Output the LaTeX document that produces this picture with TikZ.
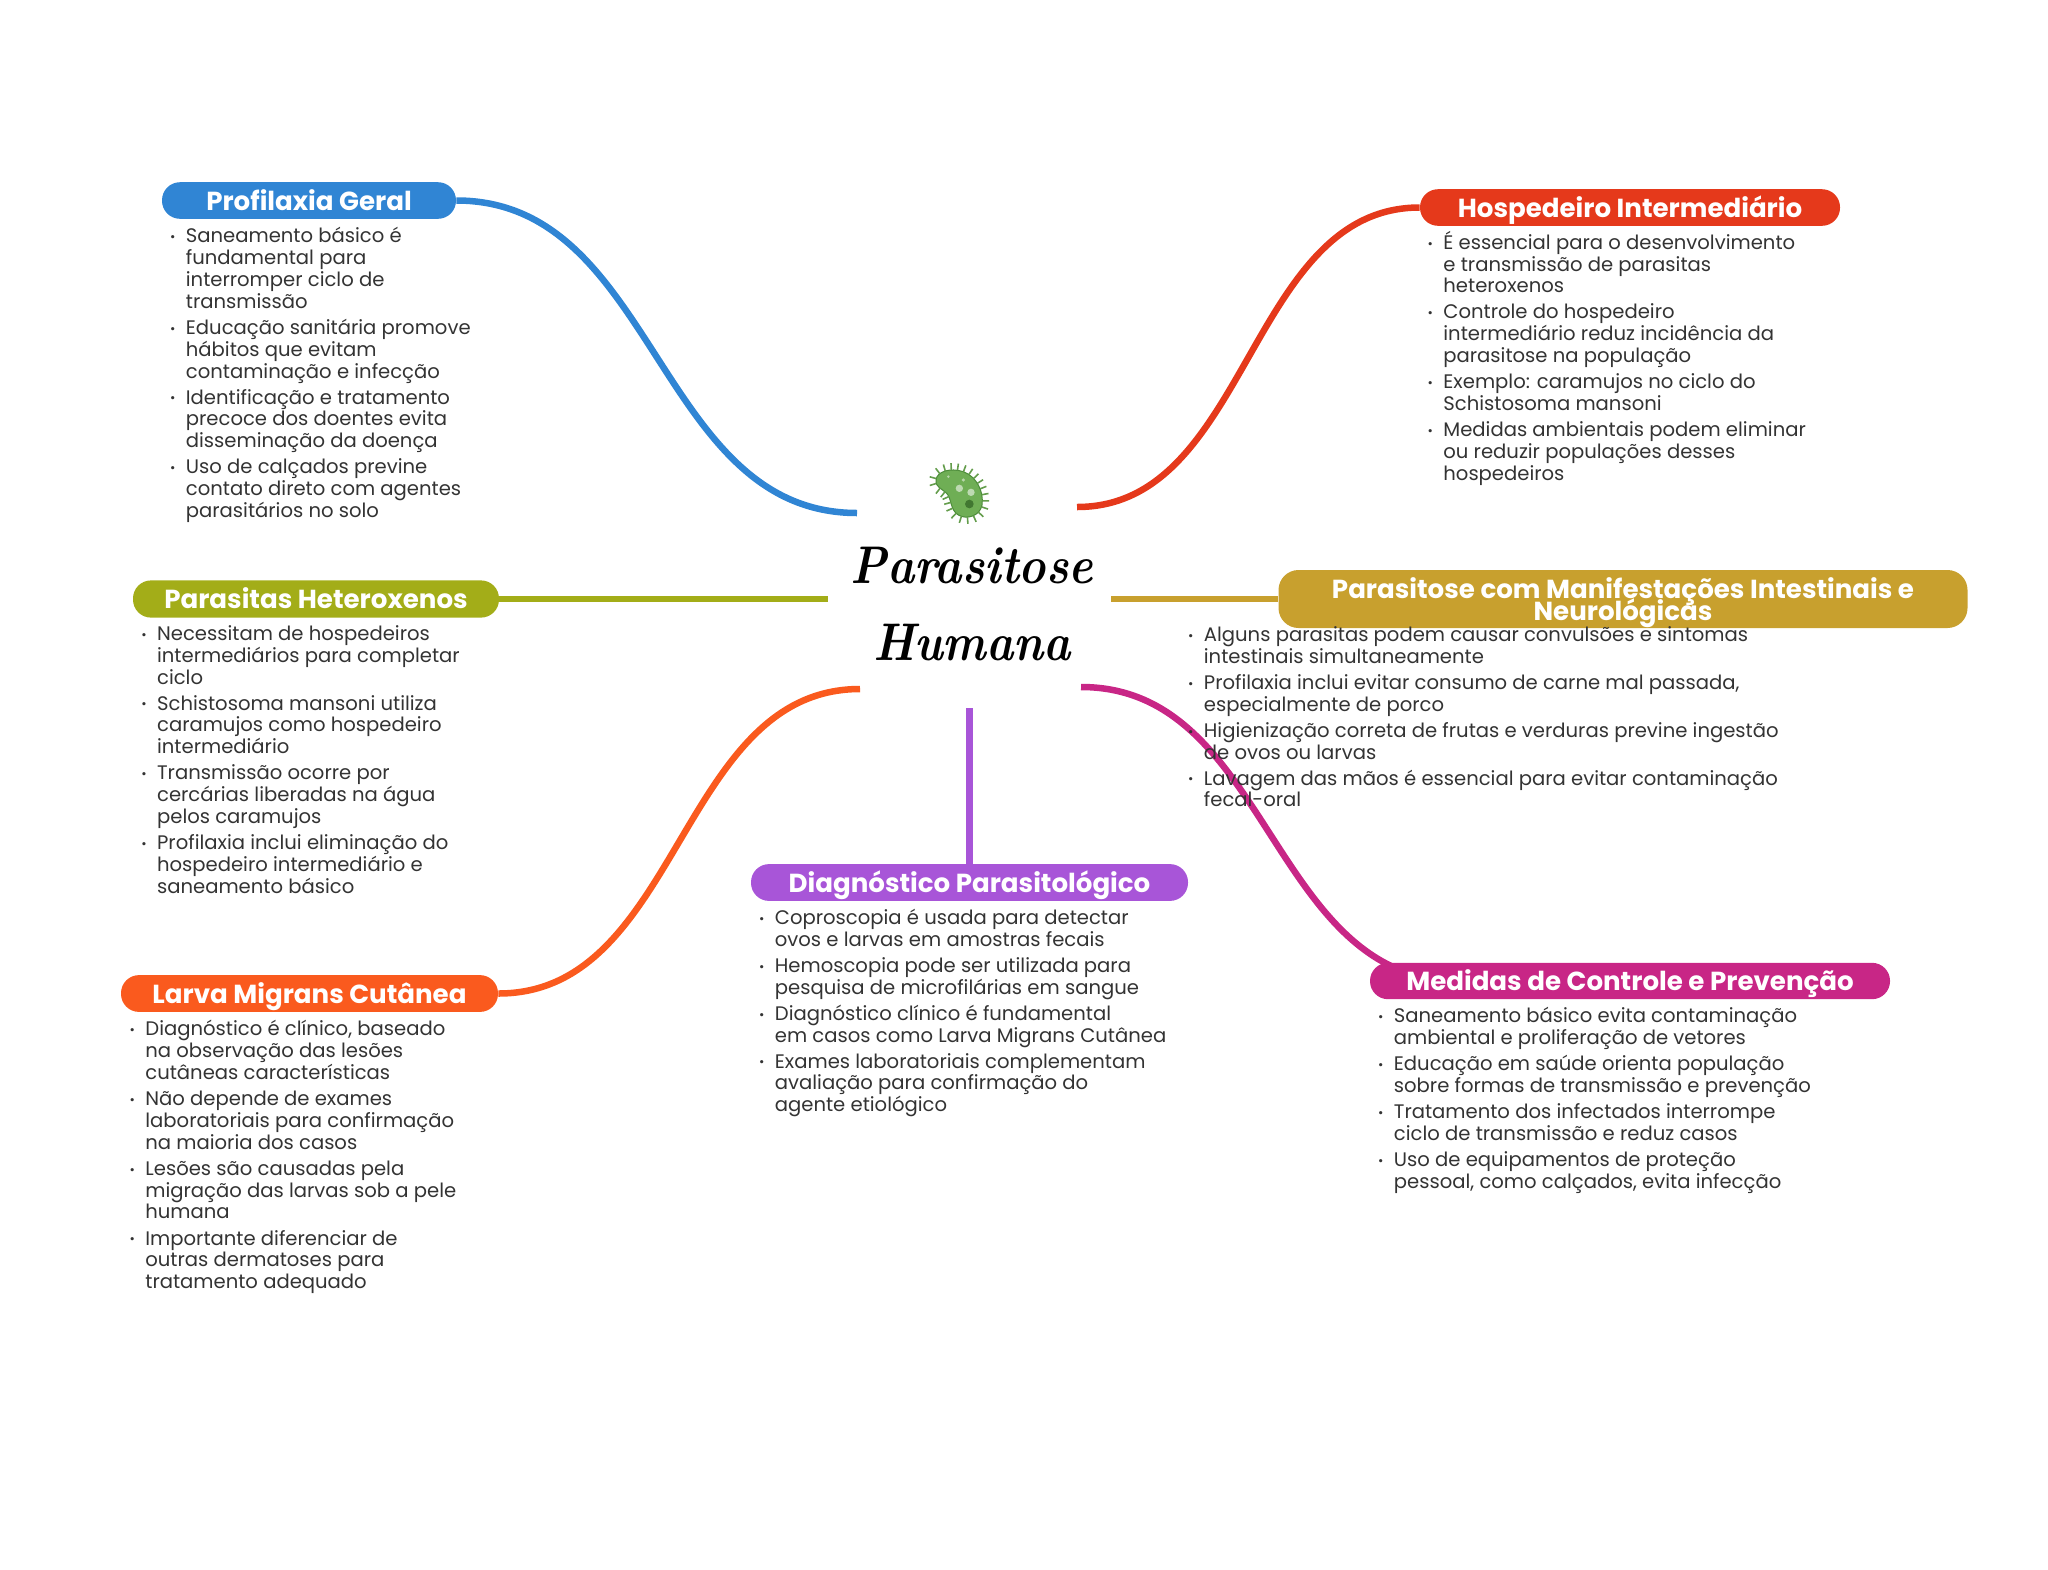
\documentclass[tikz,border=0pt]{standalone}
\usepackage{fontspec}
\setmainfont{Poppins}
\newfontfamily\titlefont[FakeStretch=0.87]{Latin Modern Roman}
\usetikzlibrary{decorations.markings}
\definecolor{cblue}{HTML}{3085D4}
\definecolor{cred}{HTML}{E5391B}
\definecolor{cgold}{HTML}{C8A02E}
\definecolor{cgreen}{HTML}{A3AD18}
\definecolor{corange}{HTML}{FA5A1E}
\definecolor{cpurple}{HTML}{A855D8}
\definecolor{cmag}{HTML}{C82686}
\definecolor{ctext}{HTML}{333333}
\definecolor{mgreen}{HTML}{6FAE55}
\definecolor{mdark}{HTML}{4C8C3A}
\pgfdeclarelayer{bg}
\pgfsetlayers{bg,main}
\AtBeginDocument{\lineskiplimit=-20pt\relax}
\newcommand{\itm}{\makebox[0pt][r]{\raisebox{0.6pt}{\fontsize{6.5}{6.5}\selectfont •}\hspace{5.2pt}}\rule{0pt}{8pt}}
\newcommand{\gap}{\\[2.15pt]}
\tikzset{
  x=0.5pt,y=-0.5pt,
  headbase/.style={rounded corners=9pt,inner sep=0pt,text=white,align=center,
    font=\fontsize{13.05}{11}\selectfont\bfseries},
  headbox/.style={headbase,text height=9.5pt,text depth=0pt},
  listbox/.style={anchor=north west,inner sep=0pt,align=left,text=ctext,
    font=\fontsize{9.8}{10.9}\selectfont},
  link/.style={line width=3.25pt},
  microspike/.style={draw=mgreen!90!black,line width=0.8pt}
}
\begin{document}
\begin{tikzpicture}
\useasboundingbox (0,0) rectangle (2048,1569);
% hub
\node[inner sep=0pt,align=center,font=\titlefont\bfseries\itshape\fontsize{26.5}{38.5}\selectfont] (hub) at (972,604) {Parasitose\\Humana};
% free ends of connectors at the hub
\coordinate (eblue) at (857,513);
\coordinate (ered) at (1077,507);
\coordinate (egreen) at (828,599);
\coordinate (egold) at (1111,599);
\coordinate (eorange) at (860,689);
\coordinate (emag) at (1081,687);
\coordinate (epurple) at (969.5,708);
\coordinate (emc) at (1459,981);
% header boxes
\node[headbox,fill=cblue,minimum width=147pt,minimum height=18.3pt] (pg) at (309,200.5) {Profilaxia Geral};
\node[headbox,fill=cred,minimum width=210pt,minimum height=18.3pt] (hi) at (1630,207.5) {Hospedeiro Intermediário};
\node[headbase,fill=cgold,rounded corners=10pt,minimum width=344.5pt,minimum height=29pt] (pm) at (1623,599) {\rule{0pt}{13.6pt}Parasitose com Manifestações Intestinais e\\Neurológicas};
\node[headbox,fill=cgreen,minimum width=183pt,minimum height=18.6pt] (ph) at (316,599) {Parasitas Heteroxenos};
\node[headbox,fill=corange,minimum width=188.5pt,minimum height=18.4pt] (lm) at (309.5,993.5) {Larva Migrans Cutânea};
\node[headbox,fill=cpurple,minimum width=218.5pt,minimum height=18.4pt] (dp) at (969.5,882.5) {Diagnóstico Parasitológico};
\node[headbox,fill=cmag,minimum width=260pt,minimum height=18.2pt] (mc) at (1630,981) {Medidas de Controle e Prevenção};
% connectors
\begin{pgfonlayer}{bg}
\draw[link,cblue] (pg.east) .. controls (656,200.5) and (657,513) .. (eblue);
\draw[link,cred] (hi.west) .. controls (1248,207.5) and (1249,507) .. (ered);
\draw[link,cgreen] (ph.east) -- (egreen);
\draw[link,cgold] (pm.west |- egold) -- (egold);
\draw[link,corange] (lm.east) .. controls (680,993.5) and (679,689) .. (eorange);
\draw[link,cpurple] (dp.north) -- (epurple);
\draw[link,cmag] (emag) .. controls (1270,687) and (1270,981) .. (emc);
\end{pgfonlayer}
% lists
\node[listbox] (l1) at (185.5,226.5) {\itm Saneamento básico é\\fundamental para\\interromper ciclo de\\transmissão\gap
\itm Educação sanitária promove\\hábitos que evitam\\contaminação e infecção\gap
\itm Identificação e tratamento\\precoce dos doentes evita\\disseminação da doença\gap
\itm Uso de calçados previne\\contato direto com agentes\\parasitários no solo};
\node[listbox] (l2) at (1443,230.7) {\itm É essencial para o desenvolvimento\\e transmissão de parasitas\\heteroxenos\gap
\itm Controle do hospedeiro\\intermediário reduz incidência da\\parasitose na população\gap
\itm Exemplo: caramujos no ciclo do\\Schistosoma mansoni\gap
\itm Medidas ambientais podem eliminar\\ou reduzir populações desses\\hospedeiros};
\node[listbox] (l3) at (1203.5,625) {\itm Alguns parasitas podem causar convulsões e sintomas\\intestinais simultaneamente\gap
\itm Profilaxia inclui evitar consumo de carne mal passada,\\especialmente de porco\gap
\itm Higienização correta de frutas e verduras previne ingestão\\de ovos ou larvas\gap
\itm Lavagem das mãos é essencial para evitar contaminação\\fecal-oral};
\node[listbox] (l4) at (156.7,624) {\itm Necessitam de hospedeiros\\intermediários para completar\\ciclo\gap
\itm Schistosoma mansoni utiliza\\caramujos como hospedeiro\\intermediário\gap
\itm Transmissão ocorre por\\cercárias liberadas na água\\pelos caramujos\gap
\itm Profilaxia inclui eliminação do\\hospedeiro intermediário e\\saneamento básico};
\node[listbox] (l5) at (145,1019.5) {\itm Diagnóstico é clínico, baseado\\na observação das lesões\\cutâneas características\gap
\itm Não depende de exames\\laboratoriais para confirmação\\na maioria dos casos\gap
\itm Lesões são causadas pela\\migração das larvas sob a pele\\humana\gap
\itm Importante diferenciar de\\outras dermatoses para\\tratamento adequado};
\node[listbox] (l6) at (774.5,908) {\itm Coproscopia é usada para detectar\\ovos e larvas em amostras fecais\gap
\itm Hemoscopia pode ser utilizada para\\pesquisa de microfilárias em sangue\gap
\itm Diagnóstico clínico é fundamental\\em casos como Larva Migrans Cutânea\gap
\itm Exames laboratoriais complementam\\avaliação para confirmação do\\agente etiológico};
\node[listbox] (l7) at (1393.5,1006.5) {\itm Saneamento básico evita contaminação\\ambiental e proliferação de vetores\gap
\itm Educação em saúde orienta população\\sobre formas de transmissão e prevenção\gap
\itm Tratamento dos infectados interrompe\\ciclo de transmissão e reduz casos\gap
\itm Uso de equipamentos de proteção\\pessoal, como calçados, evita infecção};
% microbe
\begin{scope}[shift={(800,430)},x=0.16667pt,y=-0.16667pt]
\path[fill=mgreen,draw=mdark,line width=0.5pt,
  postaction={decorate,decoration={markings,
    mark=between positions 0.01 and 1 step 0.042 with {\draw[microspike] (0,0) -- (0,3.4pt);}}}]
  (408,150) .. controls (410,125) and (450,112) .. (490,125)
  .. controls (530,140) and (552,185) .. (546,225)
  .. controls (540,258) and (500,270) .. (475,255)
  .. controls (450,240) and (455,205) .. (440,190)
  .. controls (425,175) and (406,172) .. (408,150) -- cycle;
\fill[white,opacity=.55] (478,175) circle (11);
\fill[white,opacity=.55] (513,187) circle (11);
\fill[white,opacity=.5] (490,150) circle (5);
\fill[white,opacity=.5] (445,140) circle (4);
\fill[mdark!85!black] (508,222) circle (13);
\end{scope}
\end{tikzpicture}
\end{document}
